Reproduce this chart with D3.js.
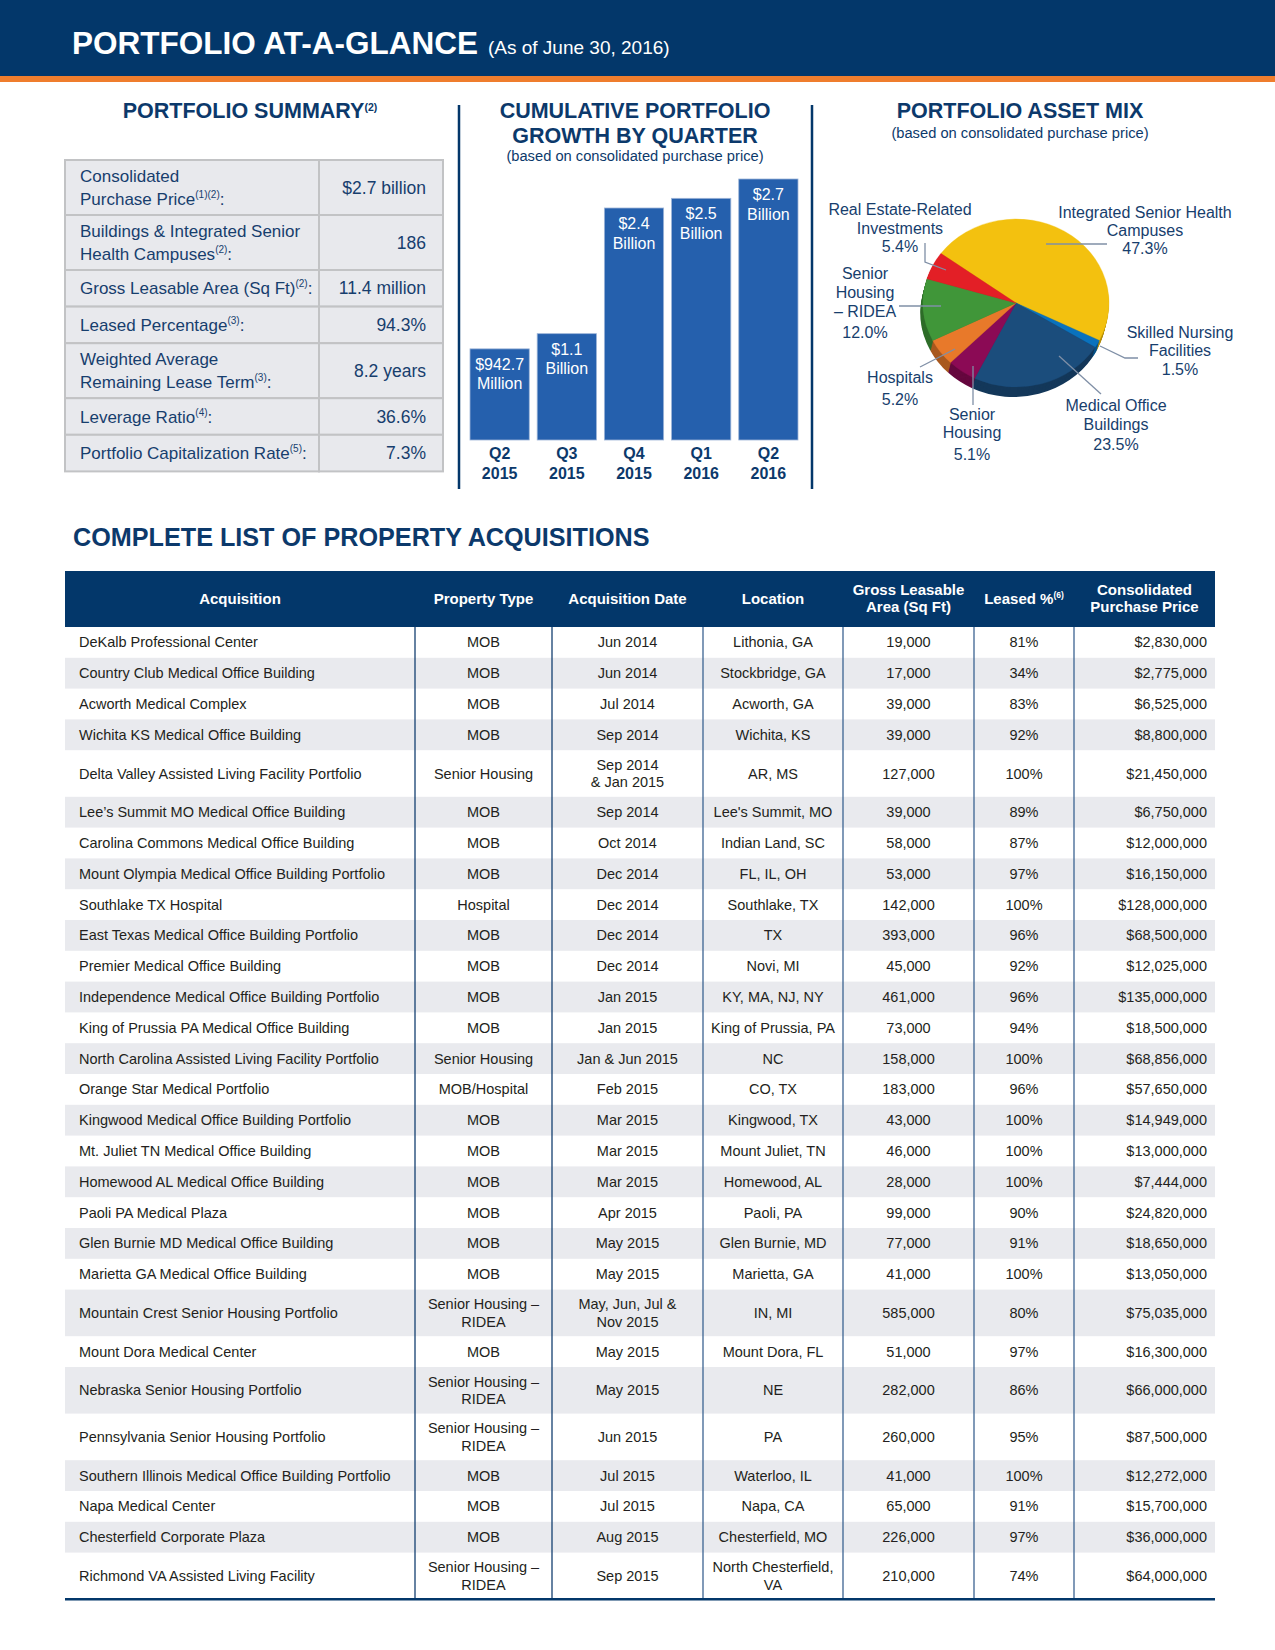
<!DOCTYPE html>
<html><head><meta charset="utf-8">
<script src="https://cdn.jsdelivr.net/npm/d3@7"></script>
<style>
body{margin:0;background:#fff}
svg{display:block}
text{font-family:"Liberation Sans",Arial,Helvetica,sans-serif}
</style>
</head><body>
<svg id="c" width="1275" height="1650"></svg>
<script>
// ---------------- DATA ----------------
const summaryLabels = [
  "Consolidated\nPurchase Price^(1)(2)^:",
  "Buildings & Integrated Senior\nHealth Campuses^(2)^:",
  "Gross Leasable Area (Sq Ft)^(2)^:",
  "Leased Percentage^(3)^:",
  "Weighted Average\nRemaining Lease Term^(3)^:",
  "Leverage Ratio^(4)^:",
  "Portfolio Capitalization Rate^(5)^:"
];
const summaryValues = ["$2.7 billion","186","11.4 million","94.3%","8.2 years","36.6%","7.3%"];

const quarters = ["Q2\n2015","Q3\n2015","Q4\n2015","Q1\n2016","Q2\n2016"];
const growthValues = [0.9427, 1.1, 2.4, 2.5, 2.7]; // $ billions
const growthLabels = ["$942.7\nMillion","$1.1\nBillion","$2.4\nBillion","$2.5\nBillion","$2.7\nBillion"];

const assetCategories = [
  "Integrated Senior Health\nCampuses",
  "Skilled Nursing\nFacilities",
  "Medical Office\nBuildings",
  "Senior\nHousing",
  "Hospitals",
  "Senior\nHousing\n– RIDEA",
  "Real Estate-Related\nInvestments"
];
const assetShares = [47.3, 1.5, 23.5, 5.1, 5.2, 12.0, 5.4];

const tableHeaders = ["Acquisition","Property Type","Acquisition Date","Location","Gross Leasable\nArea (Sq Ft)","Leased %^(6)^","Consolidated\nPurchase Price"];
const acquisitions = [
  "DeKalb Professional Center","Country Club Medical Office Building","Acworth Medical Complex",
  "Wichita KS Medical Office Building","Delta Valley Assisted Living Facility Portfolio",
  "Lee’s Summit MO Medical Office Building","Carolina Commons Medical Office Building",
  "Mount Olympia Medical Office Building Portfolio","Southlake TX Hospital",
  "East Texas Medical Office Building Portfolio","Premier Medical Office Building",
  "Independence Medical Office Building Portfolio","King of Prussia PA Medical Office Building",
  "North Carolina Assisted Living Facility Portfolio","Orange Star Medical Portfolio",
  "Kingwood Medical Office Building Portfolio","Mt. Juliet TN Medical Office Building",
  "Homewood AL Medical Office Building","Paoli PA Medical Plaza",
  "Glen Burnie MD Medical Office Building","Marietta GA Medical Office Building",
  "Mountain Crest Senior Housing Portfolio","Mount Dora Medical Center",
  "Nebraska Senior Housing Portfolio","Pennsylvania Senior Housing Portfolio",
  "Southern Illinois Medical Office Building Portfolio","Napa Medical Center",
  "Chesterfield Corporate Plaza","Richmond VA Assisted Living Facility"
];
const propertyTypes = ["MOB","MOB","MOB","MOB","Senior Housing","MOB","MOB","MOB","Hospital","MOB","MOB","MOB","MOB",
  "Senior Housing","MOB/Hospital","MOB","MOB","MOB","MOB","MOB","MOB","Senior Housing –\nRIDEA","MOB",
  "Senior Housing –\nRIDEA","Senior Housing –\nRIDEA","MOB","MOB","MOB","Senior Housing –\nRIDEA"];
const acquisitionDates = ["Jun 2014","Jun 2014","Jul 2014","Sep 2014","Sep 2014\n& Jan 2015","Sep 2014","Oct 2014",
  "Dec 2014","Dec 2014","Dec 2014","Dec 2014","Jan 2015","Jan 2015","Jan & Jun 2015","Feb 2015","Mar 2015",
  "Mar 2015","Mar 2015","Apr 2015","May 2015","May 2015","May, Jun, Jul &\nNov 2015","May 2015","May 2015",
  "Jun 2015","Jul 2015","Jul 2015","Aug 2015","Sep 2015"];
const locations = ["Lithonia, GA","Stockbridge, GA","Acworth, GA","Wichita, KS","AR, MS","Lee's Summit, MO",
  "Indian Land, SC","FL, IL, OH","Southlake, TX","TX","Novi, MI","KY, MA, NJ, NY","King of Prussia, PA","NC",
  "CO, TX","Kingwood, TX","Mount Juliet, TN","Homewood, AL","Paoli, PA","Glen Burnie, MD","Marietta, GA",
  "IN, MI","Mount Dora, FL","NE","PA","Waterloo, IL","Napa, CA","Chesterfield, MO","North Chesterfield,\nVA"];
const grossLeasableArea = [19000,17000,39000,39000,127000,39000,58000,53000,142000,393000,45000,461000,73000,
  158000,183000,43000,46000,28000,99000,77000,41000,585000,51000,282000,260000,41000,65000,226000,210000];
const leasedPct = [81,34,83,92,100,89,87,97,100,96,92,96,94,100,96,100,100,100,90,91,100,80,97,86,95,100,91,97,74];
const purchasePrices = [2830000,2775000,6525000,8800000,21450000,6750000,12000000,16150000,128000000,68500000,
  12025000,135000000,18500000,68856000,57650000,14949000,13000000,7444000,24820000,18650000,13050000,75035000,
  16300000,66000000,87500000,12272000,15700000,36000000,64000000];

// ---------------- STYLE / LAYOUT ----------------
const NAVY = "#03376a", ORANGE = "#ef7d2d", HEAD = "#0c396b", INK = "#231f20";
const BAR_FILL = "#2560ad";
const assetColors = ["#f3c10f","#0a72bd","#1b4d7c","#8b0a55","#e8792a","#409639","#e31f26"];
const pieLabelLayout = [
  {x:1145, ys:[218,236,254], leader:[[1046,244],[1107,244]]},
  {x:1180, ys:[338,356,375], leader:[[1100,346],[1125,358],[1138,358]]},
  {x:1116, ys:[411,430,450], leader:[[1059,356],[1101,394]]},
  {x:972,  ys:[420,438,460], leader:[[973,366],[973,405]]},
  {x:900,  ys:[383,405],     leader:[[955,349],[920,367]]},
  {x:865,  ys:[279,298,317,338], leader:[[899,306],[941,306]]},
  {x:900,  ys:[215,234,252], leader:[[925,243],[925,262],[946,270]]}
];

const svg = d3.select("#c");
svg.append("rect").attr("width",1275).attr("height",1650).attr("fill","#fff");

// rich text helper: segments between ^ are superscripts
function rich(textSel, str, supSize){
  const parts = str.split("^");
  let raised = false;
  parts.forEach((p,i)=>{
    if(!p) return;
    const t = textSel.append("tspan").text(p);
    if(i%2===1){ t.attr("font-size",supSize).attr("dy",-supSize*0.7); raised = true; }
    else if(raised){ t.attr("dy",supSize*0.7); raised=false; }
  });
}

// ---------------- HEADER ----------------
svg.append("rect").attr("x",0).attr("y",0).attr("width",1275).attr("height",76).attr("fill",NAVY);
svg.append("rect").attr("x",0).attr("y",76).attr("width",1275).attr("height",6).attr("fill",ORANGE);
const title = svg.append("text").attr("x",72).attr("y",54).attr("fill","#fff");
title.append("tspan").attr("font-weight","bold").attr("font-size",31.5).text("PORTFOLIO AT-A-GLANCE");
title.append("tspan").attr("font-size",19).attr("dx",10).text("(As of June 30, 2016)");

// separators
[459, 812].forEach(x=>{
  svg.append("line").attr("x1",x).attr("x2",x).attr("y1",105).attr("y2",489)
    .attr("stroke",NAVY).attr("stroke-width",2.5);
});

// ---------------- PORTFOLIO SUMMARY ----------------
const sh = svg.append("text").attr("x",250).attr("y",118).attr("text-anchor","middle")
  .attr("fill",HEAD).attr("font-weight","bold").attr("font-size",21.5);
rich(sh,"PORTFOLIO SUMMARY^(2)^",10.5);

const sumCols = [65, 319, 443];
const sumRowH = summaryLabels.map(l => l.includes("\n") ? 55 : 36.6);
const sumY = [160]; sumRowH.forEach((h,i)=>sumY.push(sumY[i]+h));
const sg = svg.append("g");
summaryLabels.forEach((lab,i)=>{
  const y0 = sumY[i], h = sumRowH[i], c = y0 + h/2;
  [0,1].forEach(j=>{
    sg.append("rect").attr("x",sumCols[j]).attr("y",y0).attr("width",sumCols[j+1]-sumCols[j]).attr("height",h)
      .attr("fill","#e8e9ed").attr("stroke","#c2c3c5").attr("stroke-width",2);
  });
  const lines = lab.split("\n");
  lines.forEach((ln,k)=>{
    const by = lines.length===1 ? c+6 : c-5.5 + k*22.5;
    const t = sg.append("text").attr("x",80).attr("y",by).attr("fill","#173e6d").attr("font-size",17);
    rich(t, ln, 10);
  });
  sg.append("text").attr("x",426).attr("y",c+6).attr("text-anchor","end").attr("fill","#173e6d")
    .attr("font-size",17.5).text(summaryValues[i]);
});

// ---------------- BAR CHART ----------------
const bh = svg.append("g").attr("fill",HEAD).attr("font-weight","bold").attr("font-size",21.5).attr("text-anchor","middle");
bh.append("text").attr("x",635).attr("y",118).text("CUMULATIVE PORTFOLIO");
bh.append("text").attr("x",635).attr("y",143).text("GROWTH BY QUARTER");
svg.append("text").attr("x",635).attr("y",161).attr("text-anchor","middle").attr("fill",HEAD)
  .attr("font-size",14.7).text("(based on consolidated purchase price)");

const x = d3.scaleBand().domain(quarters).range([470,798]).paddingInner(0.118).paddingOuter(0);
const y = d3.scaleLinear().domain([0,2.7]).range([440,179]);
const bars = svg.append("g");
bars.selectAll("rect").data(growthValues).join("rect")
  .attr("x",(d,i)=>x(quarters[i])).attr("width",x.bandwidth())
  .attr("y",d=>y(d)).attr("height",d=>y(0)-y(d))
  .attr("fill",BAR_FILL).attr("stroke","#9db5d8").attr("stroke-width",0.8);
growthLabels.forEach((lab,i)=>{
  lab.split("\n").forEach((ln,k)=>{
    bars.append("text").attr("x",x(quarters[i])+x.bandwidth()/2).attr("y",y(growthValues[i])+21+k*19.5)
      .attr("text-anchor","middle").attr("fill","#fff").attr("font-size",16).text(ln);
  });
});
const xAxis = svg.append("g").attr("transform","translate(0,440)").call(d3.axisBottom(x).tickSize(0));
xAxis.select(".domain").remove();
xAxis.attr("font-family",null).attr("font-size",null);
xAxis.selectAll(".tick text").each(function(d){
  const el = d3.select(this);
  el.text(null).attr("y",null).attr("dy",null).attr("fill",HEAD).attr("font-weight","bold").attr("font-size",16);
  d.split("\n").forEach((ln,k)=> el.append("tspan").attr("x",0).attr("y",19+k*20).text(ln));
});

// ---------------- PIE ----------------
svg.append("text").attr("x",1020).attr("y",118).attr("text-anchor","middle").attr("fill",HEAD)
  .attr("font-weight","bold").attr("font-size",21.5).text("PORTFOLIO ASSET MIX");
svg.append("text").attr("x",1020).attr("y",138).attr("text-anchor","middle").attr("fill",HEAD)
  .attr("font-size",14.7).text("(based on consolidated purchase price)");

const PIE_CX = 1016, PIE_CY = 303, PIE_RX = 93, PIE_RY = 84, PIE_DEPTH = 10, START = -0.94;
const pie = d3.pie().sort(null).value(d=>d).startAngle(START).endAngle(START+2*Math.PI);
const arcs = pie(assetShares);
const arc = d3.arc().innerRadius(0).outerRadius(PIE_RX);
const ks = PIE_RY/PIE_RX;
for(let dz=PIE_DEPTH; dz>=1; dz--){
  svg.append("g").attr("transform",`translate(${PIE_CX-dz*0.25},${PIE_CY+dz}) scale(1,${ks})`)
    .selectAll("path").data(arcs).join("path").attr("d",arc)
    .attr("fill",(d,i)=>d3.color(assetColors[i]).darker(0.9));
}
svg.append("g").attr("transform",`translate(${PIE_CX},${PIE_CY}) scale(1,${ks})`)
  .selectAll("path").data(arcs).join("path").attr("d",arc)
  .attr("fill",(d,i)=>assetColors[i]).attr("stroke",(d,i)=>assetColors[i]).attr("stroke-width",0.4);

const lg = svg.append("g");
assetCategories.forEach((cat,i)=>{
  const L = pieLabelLayout[i];
  const lines = cat.split("\n").concat([d3.format(".1f")(assetShares[i])+"%"]);
  lines.forEach((ln,k)=>{
    lg.append("text").attr("x",L.x).attr("y",L.ys[k]).attr("text-anchor","middle").attr("fill","#173e6d")
      .attr("font-size",16).text(ln);
  });
  lg.append("path").attr("d",d3.line()(L.leader)).attr("fill","none").attr("stroke","#7f8fa6").attr("stroke-width",1.3);
});

// ---------------- TABLE ----------------
svg.append("text").attr("x",73).attr("y",546).attr("fill",HEAD).attr("font-weight","bold")
  .attr("font-size",25.2).text("COMPLETE LIST OF PROPERTY ACQUISITIONS");

const colEdges = [65,415,552,703,843,974,1074,1215];
const HEAD_TOP = 571, HEAD_BOT = 627;
svg.append("rect").attr("x",colEdges[0]).attr("y",HEAD_TOP).attr("width",colEdges[7]-colEdges[0])
  .attr("height",HEAD_BOT-HEAD_TOP).attr("fill",NAVY);
tableHeaders.forEach((h,j)=>{
  const cx = (colEdges[j]+colEdges[j+1])/2, c = (HEAD_TOP+HEAD_BOT)/2;
  const lines = h.split("\n");
  lines.forEach((ln,k)=>{
    const by = lines.length===1 ? c+5 : c-4 + k*17;
    const t = svg.append("text").attr("x",cx).attr("y",by).attr("text-anchor","middle").attr("fill","#fff")
      .attr("font-weight","bold").attr("font-size",15);
    rich(t, ln, 8.5);
  });
});

const fmtInt = d3.format(",");
const rows = acquisitions.map((a,i)=>[
  a, propertyTypes[i], acquisitionDates[i], locations[i],
  fmtInt(grossLeasableArea[i]), leasedPct[i]+"%", "$"+fmtInt(purchasePrices[i])
]);
const rowH = rows.map(r => d3.max(r, c => c.split("\n").length) > 1 ? 46.6 : 30.8);
const rowY = [HEAD_BOT]; rowH.forEach((h,i)=>rowY.push(rowY[i]+h));
const tb = svg.append("g");
rows.forEach((r,i)=>{
  if(i%2===1){
    tb.append("rect").attr("x",colEdges[0]).attr("y",rowY[i]).attr("width",colEdges[7]-colEdges[0])
      .attr("height",rowH[i]).attr("fill","#e9eaee");
  }
  const c = rowY[i] + rowH[i]/2;
  r.forEach((cell,j)=>{
    const lines = cell.split("\n");
    let xx, anchor;
    if(j===0){ xx = 79; anchor = "start"; }
    else if(j===6){ xx = colEdges[7]-8; anchor = "end"; }
    else { xx = (colEdges[j]+colEdges[j+1])/2; anchor = "middle"; }
    lines.forEach((ln,k)=>{
      const by = lines.length===1 ? c+5 : c-3.8 + k*17.5;
      tb.append("text").attr("x",xx).attr("y",by).attr("text-anchor",anchor).attr("fill",INK)
        .attr("font-size",14.5).text(ln);
    });
  });
});
const tableBottom = rowY[rowY.length-1];
colEdges.slice(1,7).forEach((xv,j)=>{
  tb.append("line").attr("x1",xv).attr("x2",xv).attr("y1",HEAD_BOT).attr("y2",tableBottom)
    .attr("stroke", j<2 ? "#143f70" : "#3c6391").attr("stroke-width",1.3);
});
tb.append("line").attr("x1",colEdges[0]).attr("x2",colEdges[7]).attr("y1",tableBottom).attr("y2",tableBottom)
  .attr("stroke",NAVY).attr("stroke-width",2.6);
</script>
</body></html>
